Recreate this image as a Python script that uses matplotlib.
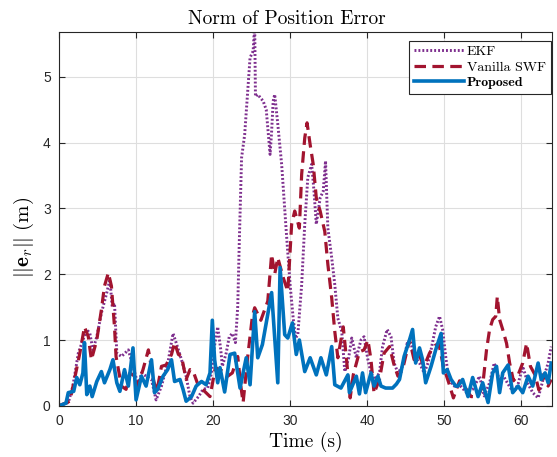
import matplotlib
matplotlib.use("Agg")
import matplotlib.pyplot as plt

plt.rcParams['mathtext.fontset'] = 'cm'
plt.rcParams['axes.unicode_minus'] = False

# EKF
t_ekf = [0, 1.2, 1.8, 2.5, 3.1, 3.6, 4.0, 4.4, 4.9, 5.5, 6.2, 6.6, 6.9, 7.2, 7.5, 8.1, 9.0, 9.6,
         10.3, 10.7, 11.3, 12.0, 12.6, 13.3, 14.2, 14.8, 15.2, 15.9, 16.5, 17.0, 17.4, 18.1, 18.7,
         19.3, 19.8, 20.1, 20.6, 21.0, 21.2, 21.7, 22.1, 22.5, 22.9, 23.2, 23.4, 23.7, 24.1, 24.8,
         25.2, 25.4, 25.5, 25.8, 26.5, 26.9, 27.4, 27.6, 27.8, 28.0, 28.4, 28.9, 29.5, 30.0, 30.4,
         30.7, 31.0, 31.5, 31.9, 32.3, 32.8, 33.1, 33.4, 33.9, 34.3, 34.6, 34.9, 35.4, 35.8, 36.2,
         36.7, 37.1, 37.6, 38.0, 38.6, 39.2, 39.6, 40.1, 40.5, 41.0, 41.6, 42.0, 42.6, 43.1, 43.5,
         44.0, 44.6, 45.2, 45.7, 46.1, 46.8, 47.4, 47.9, 48.3, 48.9, 49.4, 49.8, 50.2, 50.6, 51.3,
         51.9, 52.9, 53.7, 54.6, 55.2, 55.9, 56.5, 57.2, 57.6, 58.3, 59.0, 59.6, 60.2, 60.9, 61.5,
         62.2, 62.8, 63.5, 63.9]
v_ekf = [0, 0.05, 0.3, 0.8, 1.0, 1.16, 1.1, 0.85, 1.05, 1.41, 1.72, 1.92, 1.51, 1.56, 0.8, 0.75,
         0.85, 0.6, 0.3, 0.5, 0.45, 0.4, 0.09, 0.3, 0.7, 1.1, 0.96, 0.7, 0.45, 0.14, 0.04, 0.14,
         0.25, 0.27, 0.5, 0.85, 1.2, 0.85, 0.6, 0.8, 1.05, 1.1, 0.96, 1.51, 2.48, 3.77, 4.12, 5.29,
         5.39, 5.8, 4.7, 4.73, 4.63, 4.5, 3.82, 4.17, 4.63, 4.73, 4.28, 3.67, 2.65, 1.84, 1.33,
         1.03, 1.08, 1.84, 2.76, 3.47, 3.67, 3.26, 2.76, 3.16, 3.26, 3.72, 2.7, 2.25, 1.84, 1.33,
         1.13, 0.52, 0.73, 1.03, 0.73, 1.0, 1.05, 0.7, 0.5, 0.4, 0.5, 0.9, 1.16, 1.05, 0.65,
         0.5, 0.6, 0.95, 0.95, 0.75, 0.65, 0.5, 0.65, 0.85, 1.2, 1.36, 1.16, 0.75, 0.4, 0.3,
         0.33, 0.2, 0.25, 0.45, 0.15, 0.35, 0.65, 0.38, 0.47, 0.33, 0.2, 0.33, 0.6, 0.33, 0.2,
         0.12, 0.38, 0.65, 0.9]

# Vanilla SWF
t_swf = [0, 1.4, 2.0, 2.7, 3.3, 3.8, 4.2, 4.9, 5.5, 5.9, 6.4, 6.8, 7.2, 7.4, 8.1, 8.7, 9.2, 9.8,
         10.2, 10.9, 11.6, 12.3, 12.7, 13.3, 13.9, 14.6, 15.0, 15.5, 15.9, 16.5, 17.0, 17.4, 18.1,
         18.9, 19.6, 20.3, 21.2, 21.9, 22.5, 23.2, 23.6, 23.9, 24.5, 25.1, 25.4, 26.2, 27.1, 27.6,
         28.0, 28.4, 29.1, 29.7, 30.2, 30.6, 31.2, 31.5, 31.9, 32.2, 32.6, 33.0, 33.4, 33.9, 34.5,
         34.9, 35.4, 35.8, 36.2, 36.9, 37.3, 37.8, 38.2, 39.0, 39.6, 40.1, 40.5, 40.9, 41.6, 42.2,
         42.9, 43.5, 44.0, 44.6, 45.5, 46.1, 46.7, 47.4, 48.1, 48.6, 49.3, 49.9, 50.6, 51.2, 52.0,
         52.6, 53.5, 54.4, 55.0, 55.5, 55.9, 56.3, 56.7, 56.9, 57.2, 57.6, 58.1, 58.5, 59.0, 59.6,
         60.2, 60.7, 61.2, 61.8, 62.3, 62.8, 63.5, 63.9]
v_swf = [0, 0.07, 0.4, 0.8, 1.2, 1.05, 0.7, 1.0, 1.46, 1.82, 2.02, 1.82, 1.2, 0.75, 0.3, 0.25,
         0.5, 0.45, 0.3, 0.55, 0.85, 0.37, 0.22, 0.6, 0.62, 0.78, 0.96, 0.78, 0.75, 0.4, 0.55,
         0.53, 0.3, 0.22, 0.14, 0.58, 0.53, 0.45, 0.5, 0.75, 0.3, 0.05, 0.75, 1.36, 1.49, 1.3,
         1.59, 2.3, 2.0, 2.25, 1.95, 1.74, 2.76, 2.96, 2.7, 3.52, 4.07, 4.3, 3.97, 3.67, 3.16,
         2.96, 2.65, 2.15, 1.64, 1.13, 0.73, 1.2, 0.73, 0.12, 0.47, 0.82, 0.85, 1.0, 0.7, 0.19,
         0.4, 0.8, 0.9, 0.62, 0.45, 0.55, 1.0, 0.7, 0.78, 0.6, 0.8, 0.9, 0.95, 0.6, 0.35, 0.12,
         0.38, 0.3, 0.14, 0.14, 0.3, 0.85, 1.16, 1.31, 1.36, 1.66, 1.31, 1.16, 0.95, 0.65, 0.38,
         0.47, 0.65, 0.95, 0.6, 0.47, 0.24, 0.47, 0.3, 0.4]

# Proposed
t_prop = [0, 0.9, 1.2, 1.9, 2.3, 2.7, 3.1, 3.3, 3.6, 4.0, 4.3, 4.9, 5.5, 5.9, 6.6, 7.0, 7.5, 7.9,
          8.5, 9.0, 9.6, 10.0, 10.7, 11.3, 12.0, 12.4, 12.8, 13.5, 14.1, 14.6, 15.0, 15.7, 16.1,
          16.5, 17.2, 17.8, 18.5, 19.1, 19.6, 19.9, 20.2, 20.6, 20.9, 21.5, 22.2, 22.8, 23.5, 24.3,
          24.8, 25.4, 25.8, 26.4, 27.6, 28.4, 28.7, 29.3, 29.7, 30.3, 30.8, 31.2, 31.9, 32.6, 33.4,
          34.0, 34.7, 35.4, 35.8, 36.6, 37.5, 37.7, 38.6, 39.0, 39.4, 39.8, 40.5, 40.9, 41.4, 41.8,
          42.4, 43.3, 43.8, 44.2, 44.8, 45.5, 45.9, 46.3, 46.8, 47.2, 47.6, 48.3, 48.9, 49.6, 49.9,
          50.4, 50.9, 51.5, 51.8, 52.4, 53.1, 53.7, 54.4, 55.0, 55.7, 56.3, 56.8, 57.2, 57.6, 58.3,
          58.9, 59.6, 60.2, 60.9, 61.5, 62.2, 62.6, 63.1, 63.5, 63.9]
v_prop = [0, 0.04, 0.2, 0.22, 0.43, 0.32, 0.5, 0.96, 0.17, 0.3, 0.14, 0.37, 0.52, 0.35, 0.55, 0.7,
          0.35, 0.22, 0.55, 0.3, 0.88, 0.09, 0.45, 0.3, 0.7, 0.2, 0.25, 0.45, 0.55, 0.7, 0.37,
          0.4, 0.25, 0.07, 0.14, 0.3, 0.37, 0.32, 0.5, 1.3, 0.7, 0.35, 0.58, 0.21, 0.78, 0.8,
          0.27, 0.73, 0.32, 1.43, 0.73, 0.93, 1.72, 0.35, 2.1, 1.08, 1.03, 1.26, 0.78, 1.0, 0.52,
          0.73, 0.47, 0.73, 0.47, 0.9, 0.32, 0.27, 0.47, 0.2, 0.45, 0.18, 0.5, 0.2, 0.5, 0.3,
          0.45, 0.3, 0.27, 0.27, 0.33, 0.4, 0.75, 1.0, 1.16, 0.65, 0.88, 0.7, 0.35, 0.6, 0.85,
          1.1, 0.5, 0.55, 0.4, 0.3, 0.3, 0.4, 0.14, 0.43, 0.14, 0.35, 0.05, 0.5, 0.6, 0.2, 0.5,
          0.62, 0.2, 0.3, 0.2, 0.45, 0.3, 0.65, 0.4, 0.5, 0.35, 0.65]

fig = plt.figure(figsize=(5.57, 4.57), dpi=100)
ax = fig.add_axes([0.106, 0.112, 0.885, 0.818])

ax.plot(t_ekf, v_ekf, color='#7E2F8E', lw=2.1, dashes=(0.65, 0.7), label='EKF')
ax.plot(t_swf, v_swf, color='#A2142F', lw=2.3, dashes=(3.6, 2.0), label='Vanilla SWF')
ax.plot(t_prop, v_prop, color='#0072BD', lw=2.6, label='Proposed')

ax.set_xlim(0, 64)
ax.set_ylim(0, 5.68)
ax.set_xticks(range(0, 61, 10))
ax.set_yticks(range(0, 6))
ax.grid(True, color='#dedede', lw=0.8)
ax.set_axisbelow(True)
ax.tick_params(direction='in', top=True, right=True, length=4, width=0.8, pad=6,
               color='#262626', labelsize=10, labelcolor='#262626')
for lab in ax.get_xticklabels() + ax.get_yticklabels():
    lab.set_family('Liberation Sans')
for sp in ax.spines.values():
    sp.set_color('#262626')
    sp.set_linewidth(0.8)

# title sits a little left of the axes centre in the original
ax.set_title('Norm of Position Error', family='cmr10', fontsize=14, pad=6, x=0.463)
ax.set_xlabel('Time (s)', family='cmr10', fontsize=14, labelpad=3)
ax.set_ylabel(r'$||\mathbf{e}_r||\ (\mathrm{m})$', fontsize=15)
ax.yaxis.set_label_coords(-0.046, 0.45)

leg = ax.legend(loc='upper right', bbox_to_anchor=(0.997, 0.977), borderaxespad=0,
                fancybox=False, edgecolor='#262626', framealpha=1, handlelength=3.6,
                handletextpad=0.2, borderpad=0.35, labelspacing=0.2, prop={'family': 'cmr10', 'size': 10})
leg.get_frame().set_linewidth(0.8)
leg.get_texts()[2].set_family('cmb10')

fig.savefig('out.png', dpi=100)
